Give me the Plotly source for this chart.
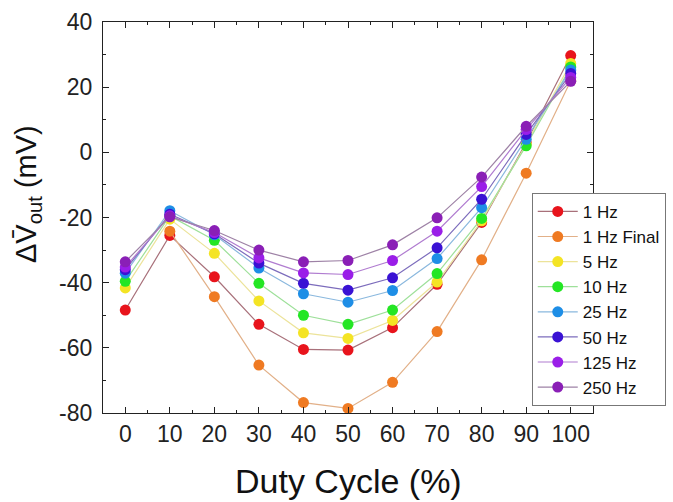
import plotly.graph_objects as go

# Duty cycle (%) on the x axis
duty_cycle = [0, 10, 20, 30, 40, 50, 60, 70, 80, 90, 100]
x_tick_labels = [str(v) for v in duty_cycle]

# y-axis ticks (plain hyphen for negatives)
y_ticks = [-80, -60, -40, -20, 0, 20, 40]
y_tick_labels = ["-80", "-60", "-40", "-20", "0", "20", "40"]

# Change in mean output voltage (mV) for each drive frequency
v_1hz       = [-48.4, -25.5, -38.2, -52.8, -60.5, -60.7, -53.8, -40.5, -21.5, 3.0, 29.7]
v_1hz_final = [None, -24.2, -44.3, -65.3, -76.8, -78.6, -70.6, -55.0, -33.0, -6.4, 22.0]
v_5hz       = [-41.6, -20.5, -31.0, -45.6, -55.4, -57.1, -51.6, -39.8, -21.0, 2.5, 27.3]
v_10hz      = [-39.6, -19.5, -27.0, -40.2, -50.0, -52.8, -48.4, -37.2, -20.3, 2.0, 26.2]
v_25hz      = [-37.1, -17.9, -25.3, -35.5, -43.4, -46.0, -42.4, -32.6, -17.0, 4.0, 25.3]
v_50hz      = [-36.0, -19.0, -25.0, -34.0, -40.2, -42.3, -38.5, -29.3, -14.4, 5.5, 24.2]
v_125hz     = [-35.2, -19.5, -24.6, -32.4, -37.0, -37.5, -33.2, -24.2, -10.5, 7.0, 23.0]
v_250hz     = [-33.6, -19.8, -24.0, -30.0, -33.6, -33.2, -28.4, -20.1, -7.6, 8.0, 21.8]

series_names = ["1 Hz", "1 Hz Final", "5 Hz", "10 Hz", "25 Hz", "50 Hz", "125 Hz", "250 Hz"]
series_values = [v_1hz, v_1hz_final, v_5hz, v_10hz, v_25hz, v_50hz, v_125hz, v_250hz]
marker_colors = ["#e8141c", "#ef7a22", "#f4e424", "#24e624", "#1e8ee6",
                 "#3a12d4", "#9a1ee8", "#8a1fb6"]
line_colors = ["#a8707a", "#e2b088", "#ece39a", "#9ee09a", "#8ab8de",
               "#7c6cbc", "#b07cd0", "#9e82a6"]

FONT = "Liberation Sans, Arial"

fig = go.Figure()
for name, vals, mc, lc in zip(series_names, series_values, marker_colors, line_colors):
    fig.add_trace(go.Scatter(
        x=duty_cycle, y=vals, name=name, mode="lines+markers",
        line=dict(color=lc, width=1.2),
        marker=dict(color=mc, size=11, line=dict(width=0)),
    ))

axis_common = dict(
    showline=True, linecolor="#222", linewidth=1.3, mirror="allticks",
    ticks="inside", ticklen=6, tickwidth=1.2, tickcolor="#222",
    showgrid=False, zeroline=False,
    tickfont=dict(family=FONT, size=23, color="#222"),
)

fig.update_xaxes(
    range=[-5, 105], tickvals=duty_cycle, ticktext=x_tick_labels,
    minor=dict(ticks="inside", ticklen=3, dtick=5, tick0=0, tickcolor="#222"),
    **axis_common,
)
fig.update_yaxes(
    range=[-80, 40], tickvals=y_ticks, ticktext=y_tick_labels,
    ticklabelstandoff=5,
    minor=dict(ticks="inside", ticklen=3, dtick=10, tick0=0, tickcolor="#222"),
    **axis_common,
)

fig.add_annotation(
    text="Duty Cycle (%)", xref="paper", yref="paper", x=0.5, y=-0.175,
    xanchor="center", yanchor="middle", showarrow=False,
    font=dict(family=FONT, size=34, color="#111"),
)
fig.add_annotation(
    text="ΔV\u0304<sub>out</sub> (mV)", xref="paper", yref="paper",
    x=-0.153, y=0.56, xanchor="center", yanchor="middle", textangle=-90,
    showarrow=False,
    font=dict(family=FONT, size=29, color="#111"),
)

fig.update_layout(
    width=673, height=502,
    margin=dict(l=103, r=80, t=22, b=89, autoexpand=False),
    paper_bgcolor="white", plot_bgcolor="white",
    showlegend=True,
    legend=dict(
        x=0.875, y=0.563, xanchor="left", yanchor="top",
        bgcolor="white", bordercolor="#777", borderwidth=1,
        font=dict(family=FONT, size=17, color="#111"),
        tracegroupgap=0, itemwidth=40, entrywidth=120,
    ),
)

fig.write_html("out.html")
